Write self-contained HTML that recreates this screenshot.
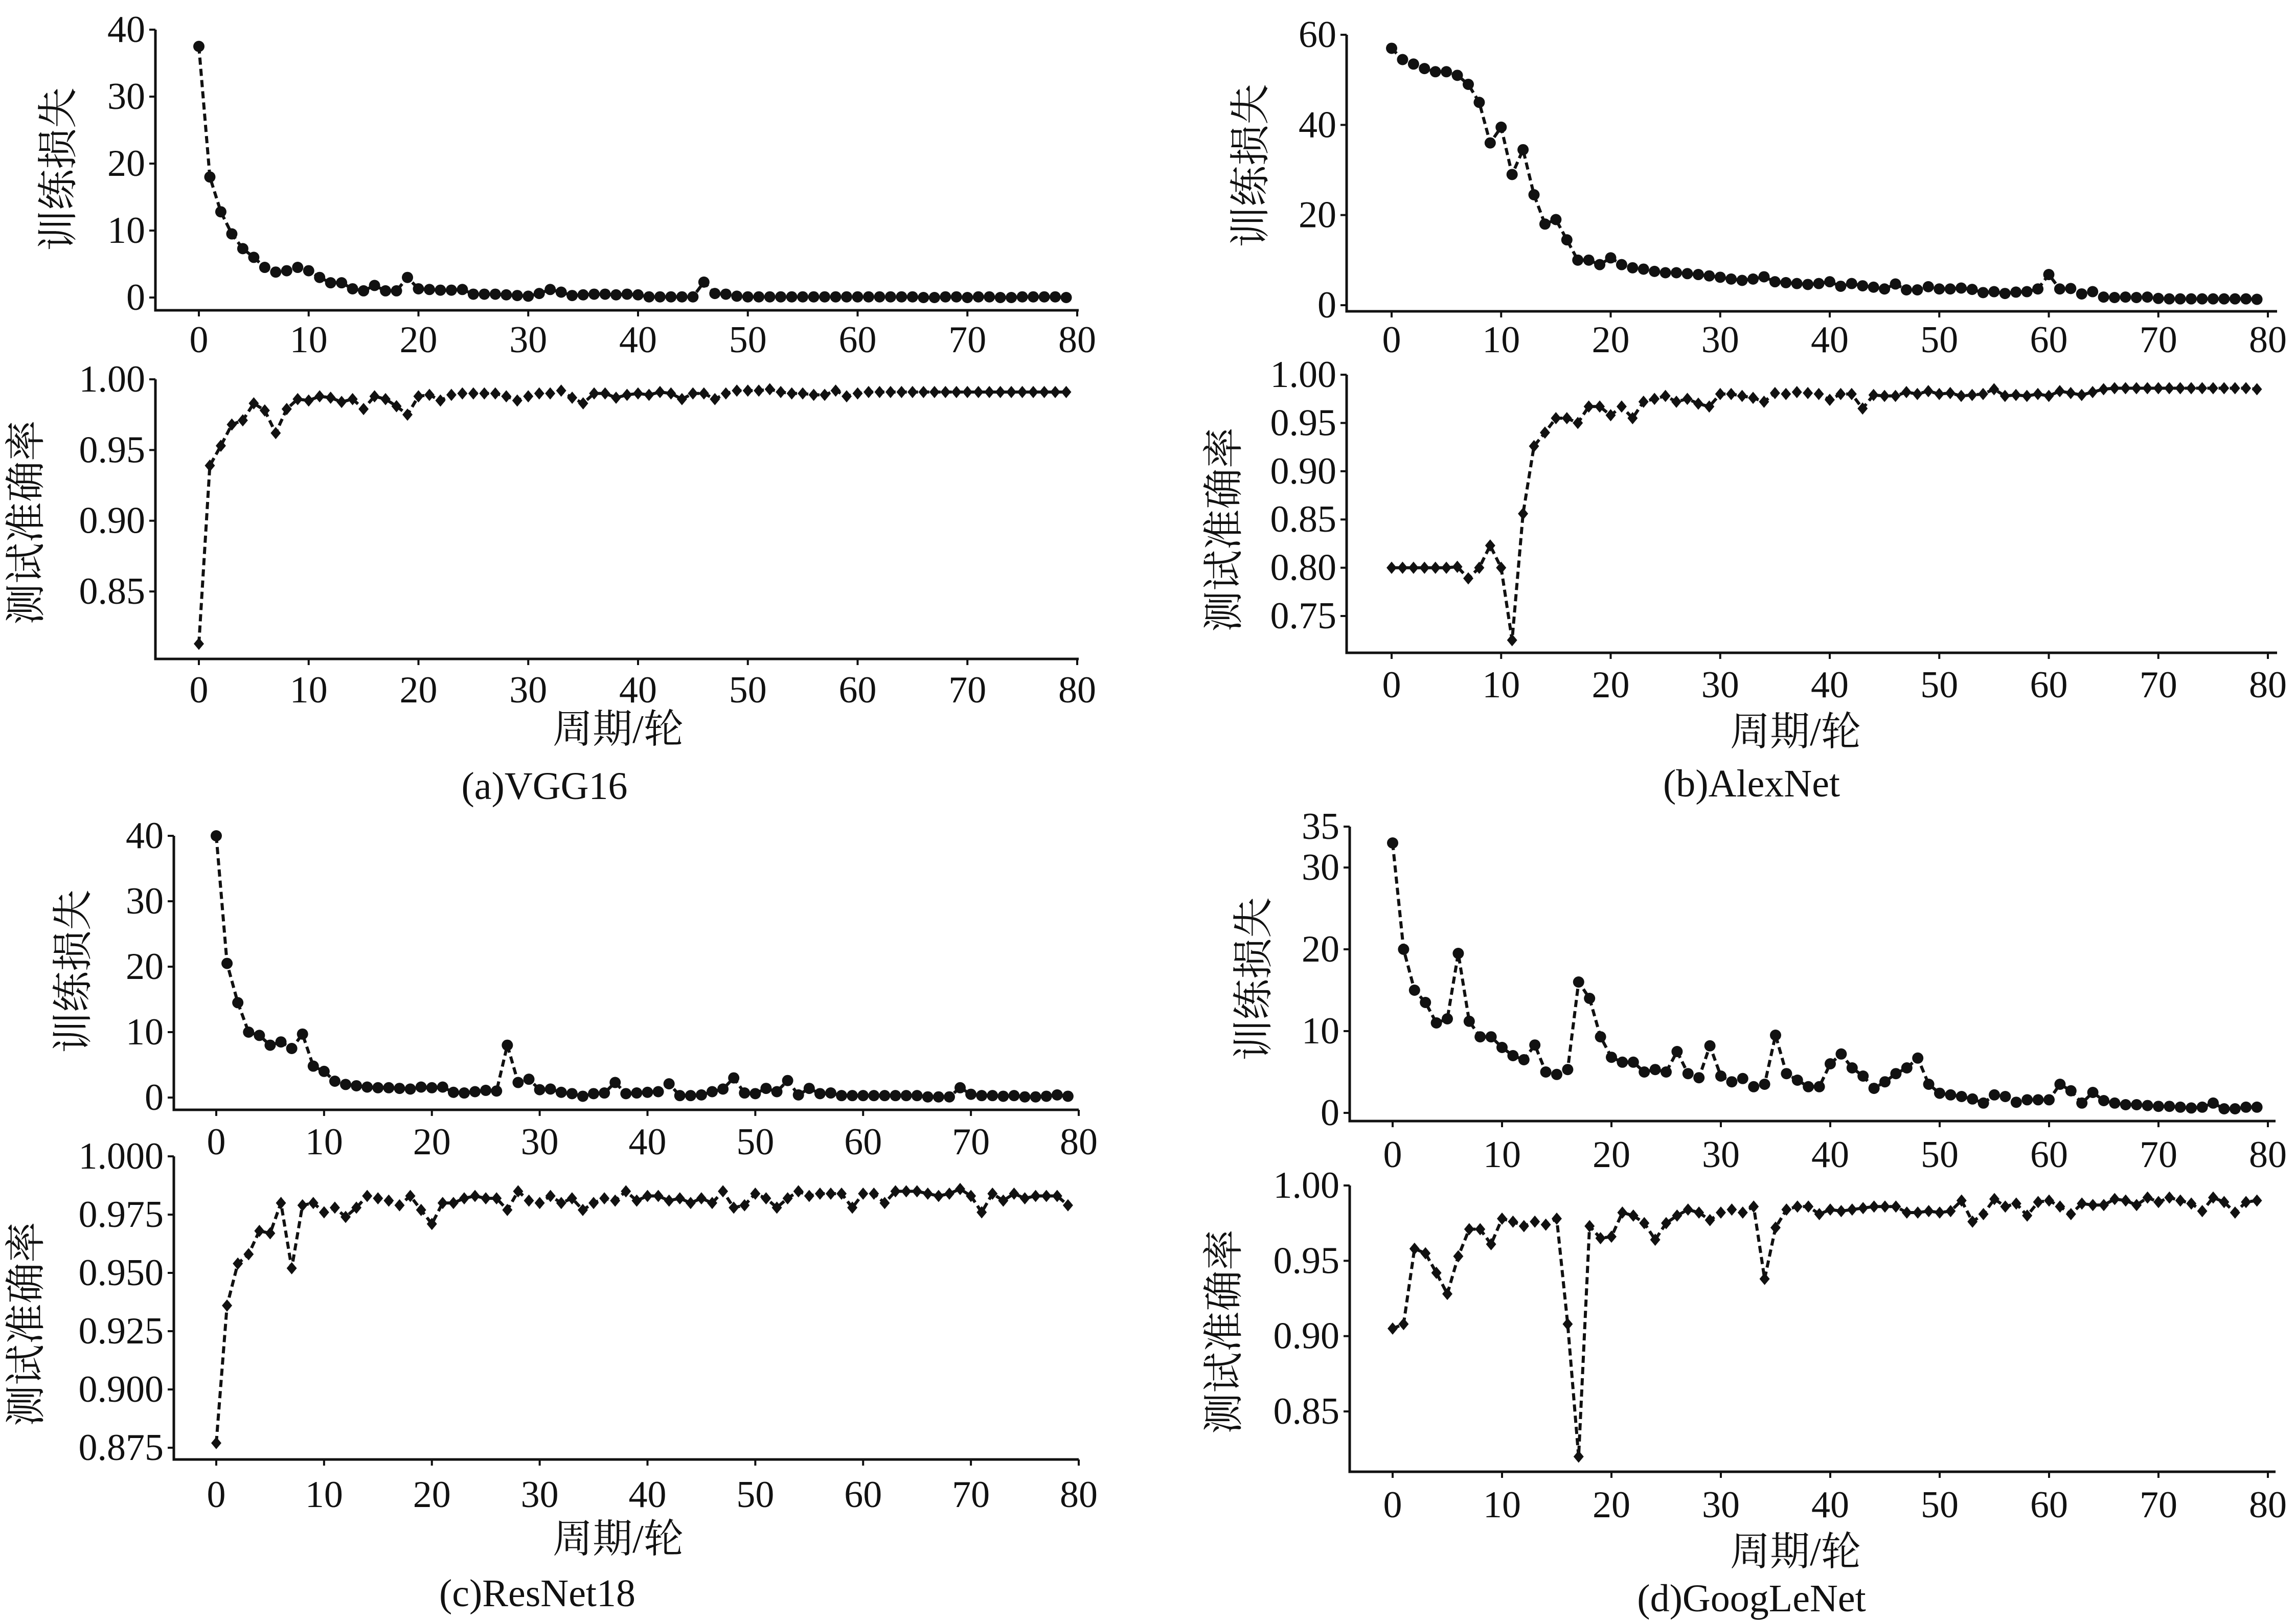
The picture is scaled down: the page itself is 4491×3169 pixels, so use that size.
<!DOCTYPE html>
<html><head><meta charset="utf-8">
<style>
html,body{margin:0;padding:0;background:#fff;}
svg{display:block;}
</style></head>
<body>
<svg id="fig" width="4491" height="3169" viewBox="0 0 4491 3169" xmlns="http://www.w3.org/2000/svg"></svg>
<script>
const epochs = Array.from({length:80},(_,i)=>i);
const xTicks = [0,10,20,30,40,50,60,70,80];

const vggLoss = [37.5,18,12.8,9.5,7.3,6,4.5,3.8,4,4.5,4,3,2.2,2.2,1.3,1,1.8,1,1,3,1.3,1.2,1.1,1.1,1.2,0.5,0.5,0.5,0.4,0.3,0.2,0.6,1.2,0.8,0.3,0.4,0.5,0.5,0.4,0.5,0.4,0.1,0.1,0.1,0.1,0.1,2.3,0.6,0.5,0.2,0.1,0.1,0.1,0.1,0.1,0.1,0.1,0.1,0.1,0.1,0.1,0.1,0.1,0.1,0.1,0.1,0,0,0.1,0.1,0,0.1,0.1,0,0,0.1,0.1,0.1,0.1,0];
const vggAcc = [0.813,0.939,0.953,0.968,0.971,0.983,0.978,0.962,0.979,0.986,0.985,0.988,0.987,0.984,0.986,0.979,0.988,0.986,0.981,0.975,0.988,0.989,0.985,0.989,0.990,0.990,0.990,0.990,0.988,0.985,0.988,0.990,0.990,0.992,0.987,0.983,0.990,0.990,0.987,0.989,0.990,0.989,0.991,0.990,0.986,0.990,0.990,0.986,0.990,0.992,0.992,0.992,0.993,0.991,0.990,0.990,0.989,0.989,0.992,0.988,0.990,0.991,0.991,0.991,0.991,0.991,0.991,0.991,0.991,0.991,0.991,0.991,0.991,0.991,0.991,0.991,0.991,0.991,0.991,0.991];

const alexLoss = [57,54.5,53.5,52.5,51.8,51.8,51,49,45,36,39.5,29,34.5,24.5,18,19,14.5,10,10,9,10.5,9,8.3,8,7.5,7.2,7.2,7,6.8,6.5,6.2,5.8,5.5,5.8,6.3,5.2,5,4.8,4.6,4.8,5.2,4.2,4.8,4.3,4,3.6,4.7,3.4,3.4,4.1,3.6,3.6,3.8,3.5,2.8,3,2.6,2.9,3,3.6,6.8,3.6,3.7,2.5,3,1.8,1.7,1.8,1.7,1.8,1.5,1.4,1.4,1.4,1.4,1.4,1.4,1.4,1.4,1.3];
const alexAcc = [0.80,0.80,0.80,0.80,0.80,0.80,0.801,0.789,0.80,0.823,0.80,0.725,0.856,0.926,0.94,0.955,0.955,0.95,0.967,0.967,0.958,0.967,0.955,0.972,0.975,0.978,0.972,0.975,0.970,0.967,0.980,0.980,0.978,0.976,0.972,0.981,0.980,0.982,0.981,0.980,0.974,0.980,0.980,0.965,0.979,0.978,0.978,0.982,0.980,0.983,0.980,0.981,0.978,0.979,0.980,0.985,0.978,0.979,0.978,0.980,0.978,0.983,0.981,0.979,0.982,0.985,0.986,0.986,0.986,0.986,0.986,0.986,0.986,0.986,0.986,0.986,0.986,0.986,0.986,0.985];

const resLoss = [40,20.5,14.5,10,9.5,8,8.5,7.5,9.7,4.8,4,2.5,2,1.8,1.6,1.5,1.5,1.4,1.3,1.6,1.5,1.6,0.8,0.7,0.9,1.1,1,8,2.3,2.8,1.2,1.3,0.8,0.6,0.2,0.6,0.7,2.3,0.6,0.7,0.8,0.9,2.1,0.3,0.3,0.4,0.9,1.3,3,0.7,0.6,1.4,0.9,2.6,0.4,1.4,0.6,0.7,0.3,0.3,0.3,0.3,0.3,0.3,0.3,0.3,0.1,0.1,0.1,1.5,0.5,0.3,0.3,0.2,0.3,0.1,0.1,0.2,0.4,0.2];
const resAcc = [0.877,0.936,0.954,0.958,0.968,0.967,0.980,0.952,0.979,0.980,0.976,0.978,0.974,0.978,0.983,0.982,0.981,0.979,0.983,0.977,0.971,0.980,0.980,0.982,0.983,0.982,0.982,0.977,0.985,0.981,0.980,0.983,0.980,0.982,0.977,0.980,0.982,0.981,0.985,0.981,0.983,0.983,0.981,0.982,0.980,0.982,0.980,0.985,0.978,0.979,0.984,0.982,0.978,0.982,0.985,0.983,0.984,0.984,0.984,0.978,0.984,0.984,0.980,0.985,0.985,0.985,0.984,0.983,0.984,0.986,0.983,0.976,0.984,0.981,0.984,0.982,0.983,0.983,0.983,0.979];

const gooLoss = [33,20,15,13.5,11,11.5,19.5,11.2,9.3,9.3,8,7,6.5,8.3,5,4.7,5.3,16,14,9.3,6.8,6.2,6.2,5,5.3,5,7.5,4.8,4.3,8.2,4.5,3.8,4.2,3.2,3.5,9.5,4.8,4,3.2,3.2,6,7.2,5.5,4.5,3,3.8,4.8,5.5,6.7,3.5,2.4,2.2,2,1.7,1.2,2.2,2,1.3,1.6,1.6,1.6,3.5,2.7,1.2,2.5,1.5,1.2,1,1,0.9,0.8,0.8,0.7,0.6,0.7,1.2,0.5,0.5,0.7,0.7];
const gooAcc = [0.905,0.908,0.958,0.955,0.942,0.928,0.953,0.971,0.971,0.961,0.978,0.976,0.973,0.976,0.974,0.978,0.908,0.82,0.973,0.965,0.966,0.982,0.980,0.975,0.964,0.975,0.980,0.984,0.982,0.977,0.982,0.984,0.982,0.986,0.938,0.972,0.984,0.986,0.986,0.981,0.984,0.983,0.984,0.985,0.986,0.986,0.986,0.982,0.982,0.983,0.982,0.983,0.990,0.976,0.981,0.991,0.986,0.988,0.980,0.989,0.990,0.986,0.981,0.988,0.987,0.987,0.991,0.990,0.987,0.992,0.989,0.992,0.990,0.988,0.983,0.992,0.989,0.982,0.989,0.990];

const vggLossTicks=[0,10,20,30,40], vggAccTicks=[0.85,0.90,0.95,1.00];
const alexLossTicks=[0,20,40,60], alexAccTicks=[0.75,0.80,0.85,0.90,0.95,1.00];
const resLossTicks=[0,10,20,30,40], resAccTicks=[0.875,0.900,0.925,0.950,0.975,1.000];
const gooLossTicks=[0,10,20,30,35], gooAccTicks=[0.85,0.90,0.95,1.00];

const SERIF='"Liberation Serif", "Times New Roman", serif';
const CJK='"Liberation Serif", "Noto Serif CJK SC", "Noto Sans CJK SC", serif';
const NS="http://www.w3.org/2000/svg";
const svg=document.getElementById('fig');
function mk(tag,attrs,parent){const e=document.createElementNS(NS,tag);for(const k in attrs)e.setAttribute(k,attrs[k]);(parent||svg).appendChild(e);return e;}

function plot(name,p,data,ticks,fmt,marker,ylabel,ylx){
  const g=mk('g',{});
  
  
  const xs=v=>p.x0+(p.x80-p.x0)*v/80;
  const ys=v=>p.pLo+(p.pHi-p.pLo)*(v-p.vLo)/(p.vHi-p.vLo);
  const ax=mk('path',{d:`M${p.ax} ${p.top}V${p.axY}H${p.axEnd}`,fill:'none',stroke:'#111','stroke-width':5},g);
  
  
  xTicks.forEach(t=>{
    mk('line',{x1:xs(t),x2:xs(t),y1:p.axY,y2:p.axY+12,stroke:'#111','stroke-width':4},g);
    const tx=mk('text',{x:xs(t),y:p.tlY,'font-size':74,'font-family':SERIF,fill:'#111','text-anchor':'middle','dominant-baseline':'central'},g);
    tx.textContent=t;
    
    
  });
  ticks.forEach(t=>{
    mk('line',{x1:p.ax-12,x2:p.ax,y1:ys(t),y2:ys(t),stroke:'#111','stroke-width':4},g);
    const tx=mk('text',{x:p.ax-20,y:ys(t),'font-size':74,'font-family':SERIF,fill:'#111','text-anchor':'end','dominant-baseline':'central'},g);
    tx.textContent=fmt(t);
    
    
  });
  const pts=data.map((v,i)=>[xs(epochs[i]),ys(v)]);
  const ln=mk('polyline',{points:pts.map(q=>q.join(',')).join(' '),fill:'none',stroke:'#111','stroke-width':6,'stroke-dasharray':'14 8'},g);
  
  
  pts.forEach(q=>{
    let m;
    if(marker==='circle') m=mk('circle',{cx:q[0],cy:q[1],r:11,fill:'#111'},g);
    else m=mk('path',{d:`M${q[0]} ${q[1]-12}L${q[0]+10} ${q[1]}L${q[0]} ${q[1]+12}L${q[0]-10} ${q[1]}Z`,fill:'#111'},g);
    
    
  });
  const yl=mk('text',{x:ylx[0],y:ylx[1],'font-size':80,'font-family':CJK,fill:'#111','text-anchor':'middle','dominant-baseline':'central',transform:`rotate(-90 ${ylx[0]} ${ylx[1]})`},g);
  yl.textContent=ylabel;
  
  
}
function label(txt,x,y,size,nm,fam){
  const t=mk('text',{x:x,y:y,'font-size':size,'font-family':fam,fill:'#111','text-anchor':'middle','dominant-baseline':'central'});
  t.textContent=txt;
  
  
}
const f0=v=>String(v), f2=v=>v.toFixed(2), f3=v=>v.toFixed(3);

// (a) VGG16
plot('vgg-loss',{x0:389,x80:2107,ax:304,axEnd:2110,axY:607,top:58,vLo:0,pLo:582,vHi:40,pHi:58,tlY:665},vggLoss,vggLossTicks,f0,'circle','训练损失',[115,331]);
plot('vgg-acc',{x0:389,x80:2107,ax:304,axEnd:2110,axY:1289,top:742,vLo:0.85,pLo:1157,vHi:1.0,pHi:742,tlY:1350},vggAcc,vggAccTicks,f2,'diamond','测试准确率',[52,1022]);
label('周期/轮',1209,1426,78,'x-axis-title',CJK);
label('(a)VGG16',1065,1538,76,'caption-a',SERIF);

// (b) AlexNet
plot('alex-loss',{x0:2722,x80:4436,ax:2634,axEnd:4454,axY:609,top:68,vLo:0,pLo:597,vHi:60,pHi:68,tlY:665},alexLoss,alexLossTicks,f0,'circle','训练损失',[2447,324]);
plot('alex-acc',{x0:2722,x80:4436,ax:2634,axEnd:4454,axY:1277,top:733,vLo:0.75,pLo:1205,vHi:1.0,pHi:733,tlY:1340},alexAcc,alexAccTicks,f2,'diamond','测试准确率',[2395,1036]);
label('周期/轮',3512,1431,78,'x-axis-title',CJK);
label('(b)AlexNet',3426,1533,76,'caption-b',SERIF);

// (c) ResNet18
plot('res-loss',{x0:423,x80:2110,ax:340,axEnd:2110,axY:2171,top:1635,vLo:0,pLo:2147,vHi:40,pHi:1635,tlY:2234},resLoss,resLossTicks,f0,'circle','训练损失',[144,1900]);
plot('res-acc',{x0:423,x80:2110,ax:340,axEnd:2110,axY:2855,top:2262,vLo:0.875,pLo:2832,vHi:1.0,pHi:2262,tlY:2924},resAcc,resAccTicks,f3,'diamond','测试准确率',[52,2590]);
label('周期/轮',1209,3010,78,'x-axis-title',CJK);
label('(c)ResNet18',1051,3117,76,'caption-c',SERIF);

// (d) GoogLeNet
plot('goo-loss',{x0:2724,x80:4436,ax:2640,axEnd:4451,axY:2193,top:1617,vLo:0,pLo:2177,vHi:35,pHi:1617,tlY:2259},gooLoss,gooLossTicks,f0,'circle','训练损失',[2453,1915]);
plot('goo-acc',{x0:2724,x80:4436,ax:2640,axEnd:4451,axY:2879,top:2319,vLo:0.85,pLo:2761,vHi:1.0,pHi:2319,tlY:2944},gooAcc,gooAccTicks,f2,'diamond','测试准确率',[2395,2605]);
label('周期/轮',3512,3035,78,'x-axis-title',CJK);
label('(d)GoogLeNet',3426,3127,76,'caption-d',SERIF);
</script>
</body></html>
